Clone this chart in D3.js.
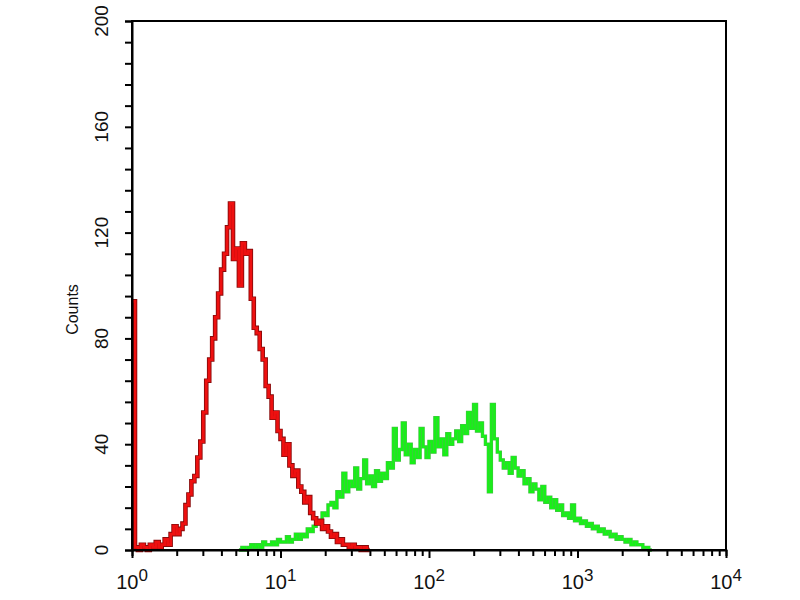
<!DOCTYPE html>
<html>
<head>
<meta charset="utf-8">
<script src="https://cdn.jsdelivr.net/npm/d3@7.9.0/dist/d3.min.js"></script>
<style>
  body { margin: 0; background: #fff; }
  svg { display: block; font-family: "Liberation Sans", Arial, sans-serif; }
</style>
</head>
<body>
<div id="chart"></div>
<script>
// histogram bins: width in decades, counts
const binWidth = 0.02;
const redFirstBin = 0;
const redCounts = [
  94, 1, 0, 2, 1, 0, 2, 1, 3, 1, 2, 4, 2, 6, 9, 6, 8, 10, 17, 21,
  26, 28, 35, 41, 52, 64, 72, 80, 88, 97, 106, 112, 122, 131, 110, 114, 100, 116, 112, 113,
  95, 84, 82, 76, 72, 62, 58, 50, 52, 45, 42, 36, 40, 32, 28, 30, 24, 22, 18, 20,
  14, 12, 10, 11, 8, 9, 7, 5, 6, 3, 4, 2, 2, 1, 2, 1, 1, 0, 1, 0
];
const greenFirstBin = 36;
const greenCounts = [
  0, 1, 0, 1, 2, 1, 2, 1, 3, 2, 2, 3, 2, 4, 3, 3, 5, 3, 4, 6,
  4, 6, 5, 8, 7, 9, 11, 10, 14, 13, 17, 18, 16, 22, 20, 29, 22, 26, 24, 31,
  23, 27, 34, 25, 28, 24, 30, 26, 29, 27, 33, 31, 46, 34, 38, 48, 36, 40, 33, 38,
  35, 46, 39, 35, 41, 37, 50, 39, 42, 36, 44, 40, 42, 45, 41, 47, 44, 52, 46, 55,
  45, 48, 43, 40, 22, 55, 42, 37, 34, 31, 33, 29, 35, 31, 28, 30, 25, 27, 22, 25,
  23, 19, 24, 18, 20, 16, 19, 15, 17, 13, 14, 12, 17, 11, 12, 10, 11, 9, 10, 8,
  9, 7, 8, 6, 7, 5, 6, 4, 5, 4, 3, 4, 2, 3, 2, 2, 1, 1, 0
];
const yTicks = [0, 40, 80, 120, 160, 200];
const xDecades = [0, 1, 2, 3, 4];

const width = 800, height = 600;
const margin = { top: 21, right: 74, bottom: 50, left: 132 };
const innerW = width - margin.left - margin.right;
const innerH = height - margin.top - margin.bottom;

const svg = d3.select("#chart").append("svg")
  .attr("width", width)
  .attr("height", height);

const x = d3.scaleLog().domain([1, 10000]).range([margin.left, margin.left + innerW]);
const y = d3.scaleLinear().domain([0, 200]).range([margin.top + innerH, margin.top]);

// turn bin counts into step points
function toPoints(first, counts) {
  const pts = counts.map((c, i) => [Math.pow(10, (first + i) * binWidth), c]);
  pts.push([Math.pow(10, (first + counts.length) * binWidth), 0]);
  return pts;
}

const line = d3.line()
  .x(d => x(d[0]))
  .y(d => y(d[1]))
  .curve(d3.curveStepAfter);

const greenPts = toPoints(greenFirstBin, greenCounts);
const redPts = toPoints(redFirstBin, redCounts);

svg.append("path").datum(greenPts).attr("d", line)
  .attr("fill", "none").attr("stroke", "#4fb84f").attr("stroke-width", 3.4);
svg.append("path").datum(greenPts).attr("d", line)
  .attr("fill", "none").attr("stroke", "#18f018").attr("stroke-width", 2.4);

svg.append("path").datum(redPts).attr("d", line)
  .attr("fill", "none").attr("stroke", "#8a0a0a").attr("stroke-width", 4.6);
svg.append("path").datum(redPts).attr("d", line)
  .attr("fill", "none").attr("stroke", "#ee1010").attr("stroke-width", 2.8);

// frame
svg.append("rect")
  .attr("x", margin.left).attr("y", margin.top)
  .attr("width", innerW).attr("height", innerH)
  .attr("fill", "none").attr("stroke", "#000").attr("stroke-width", 2);

// y axis
const yAxis = svg.append("g")
  .attr("transform", `translate(${margin.left},0)`)
  .call(d3.axisLeft(y).tickValues(d3.range(0, 201, 8)).tickSize(7).tickFormat(""));
yAxis.select(".domain").attr("stroke-width", 2);
yAxis.selectAll(".tick line").attr("stroke-width", 2);

svg.append("g").selectAll("text")
  .data(yTicks)
  .enter()
  .append("text")
  .attr("transform", d => `translate(108,${y(d)}) rotate(-90)`)
  .attr("text-anchor", "middle")
  .attr("font-size", "19px")
  .attr("fill", "#111")
  .text(d => d);

svg.append("text")
  .attr("transform", `translate(78,${margin.top + innerH / 2 + 24}) rotate(-90)`)
  .attr("text-anchor", "middle")
  .attr("font-size", "16px")
  .attr("fill", "#111")
  .text("Counts");

// x axis with minor ticks
const minor = [];
xDecades.slice(0, -1).forEach(e => {
  for (let k = 2; k <= 9; k++) minor.push(k * Math.pow(10, e));
});
const xAxis = svg.append("g")
  .attr("transform", `translate(0,${margin.top + innerH})`)
  .call(d3.axisBottom(x).tickValues(minor).tickSize(6).tickFormat(""));
xAxis.select(".domain").attr("stroke-width", 2);
xAxis.selectAll(".tick line").attr("stroke-width", 2);

svg.append("g")
  .attr("transform", `translate(0,${margin.top + innerH})`)
  .call(d3.axisBottom(x).tickValues(xDecades.map(e => Math.pow(10, e))).tickSize(8).tickFormat(""))
  .call(g => g.select(".domain").remove())
  .selectAll(".tick line").attr("stroke-width", 2);

const xLabels = svg.append("g").selectAll("text")
  .data(xDecades)
  .enter()
  .append("text")
  .attr("x", d => x(Math.pow(10, d)))
  .attr("y", 589)
  .attr("text-anchor", "middle")
  .attr("font-size", "20px")
  .attr("fill", "#111");
xLabels.append("tspan").text("10");
xLabels.append("tspan")
  .attr("dy", -8)
  .attr("font-size", "17px")
  .text(d => d);
</script>
</body>
</html>
